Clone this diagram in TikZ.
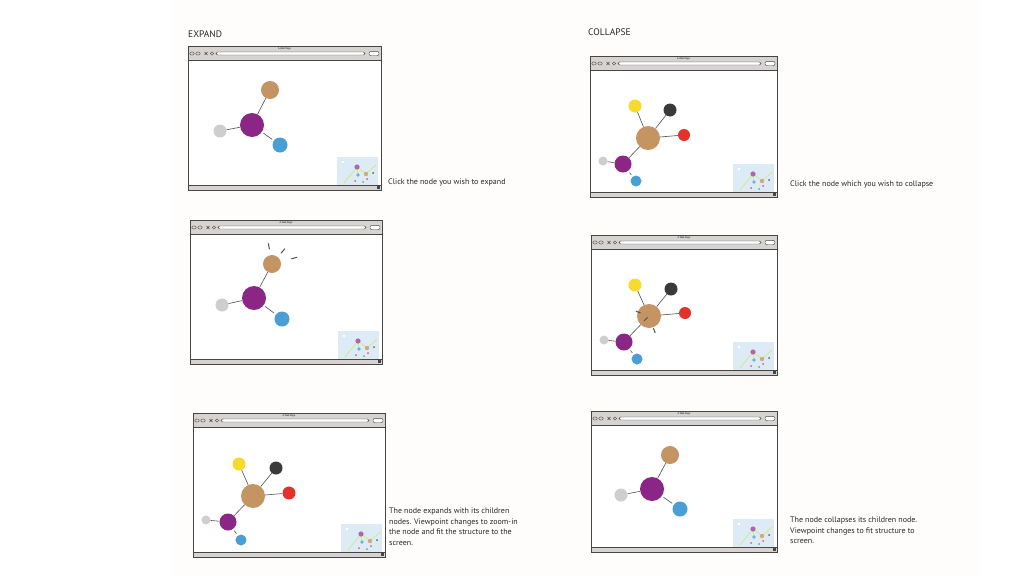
\documentclass[tikz,border=0pt]{standalone}
\usepackage{fontspec}
\setmainfont{PT Sans}
\usetikzlibrary{calc,backgrounds}

\definecolor{pagec}{RGB}{254,253,251}
\definecolor{barc}{RGB}{214,211,208}
\definecolor{framec}{RGB}{70,70,70}
\definecolor{linkc}{RGB}{80,80,80}
\definecolor{mapc}{RGB}{220,235,245}
\definecolor{purplec}{RGB}{140,38,134}
\definecolor{tanc}{RGB}{196,148,98}
\definecolor{greyc}{RGB}{206,206,206}
\definecolor{bluec}{RGB}{74,158,214}
\definecolor{yellowc}{RGB}{246,218,46}
\definecolor{blackc}{RGB}{58,58,58}
\definecolor{redc}{RGB}{226,50,42}
\definecolor{textc}{RGB}{40,40,40}

\tikzset{
  gnode/.style={circle, inner sep=0pt, draw=none},
  link/.style={draw=linkc, line width=0.6pt, shorten >=2pt, shorten <=2pt},
  hint/.style={draw=linkc, line width=1pt},
  note/.style={font=\fontsize{8}{10.5}\selectfont, align=left, inner sep=0pt, text=textc},
  heading/.style={font=\fontsize{9.5}{11}\selectfont, anchor=west, inner sep=0pt, text=textc},
}

% browser window: x, y, width, height
\newcommand{\browserwin}[4]{%
  \begin{scope}[shift={(#1,#2)}]
    \fill[white] (0,0) rectangle (#3,#4);
    \fill[barc] (0,0) rectangle (#3,14);
    \fill[barc] (0,#4-5) rectangle (#3,#4);
    \draw[framec, line width=0.5pt] (0,14) -- (#3,14) (0,#4-5) -- (#3,#4-5);
    \node[font=\fontsize{2.5}{3}\selectfont, inner sep=0pt] at (#3/2,2.6) {A Web Page};
    \draw[framec, line width=0.4pt] (4,7.5) ellipse (2.2 and 1.6) (10,7.5) ellipse (2.2 and 1.6)
      (16.5,6) -- (19.5,9) (16.5,9) -- (19.5,6) (24,7.5) circle (1.6);
    \draw[framec, line width=0.4pt, fill=white, rounded corners=1.5pt] (28,6) rectangle (#3-16,9);
    \draw[framec, line width=0.4pt, fill=white, rounded corners=2pt] (#3-12,5.3) rectangle (#3-2,9.7);
    \fill[framec] (#3-4,#4-4) rectangle (#3-1,#4-1);
    % minimap
    \begin{scope}[shift={(#3-44,#4-33)}]
      \fill[mapc] (0,0) rectangle (41,28);
      \fill[white] (5,4) rectangle (7,6);
      \draw[yellow!70!green!60, line width=0.6pt] (7,26) -- (20,10) -- (29,17) -- (39,8) (20,10) -- (21,18);
      \fill[purplec!70] (20,10) circle (2.6);
      \fill[tanc!80] (29,17) circle (2.2);
      \fill[bluec!80] (21,18) circle (1.8);
      \fill[blackc!80] (36,16) circle (1);
      \fill[redc!80] (18,24) circle (1) (30,22) circle (1);
      \fill[green!50!black!60] (26,25) circle (1);
    \end{scope}
    \draw[framec, line width=1pt] (0,0) rectangle (#3,#4);
  \end{scope}}

\begin{document}
\begin{tikzpicture}[x=1pt, y=-1pt]
  \useasboundingbox (0,0) rectangle (1024,576);
  \fill[pagec] (172,0) rectangle (980,576);

  \node[heading] (expand) at (188,34) {EXPAND};
  \node[heading] (collapse) at (588,32) {COLLAPSE};

  \foreach \x/\y/\w/\h in {188/46/193/144, 190/220/192/144, 193/413/192/144,
                           590/56/187/141, 591/235/186/140, 591/411/186/141}
    \browserwin{\x}{\y}{\w}{\h};

  % expand, step 1
  \node[gnode, fill=purplec, minimum size=24pt] (e1c) at (252,125) {};
  \node[gnode, fill=tanc,    minimum size=18pt] (e1t) at (270,90) {};
  \node[gnode, fill=greyc,   minimum size=13pt] (e1g) at (220,131) {};
  \node[gnode, fill=bluec,   minimum size=15pt] (e1b) at (280,145) {};
  \path[link] (e1c) -- (e1t) (e1c) -- (e1g) (e1c) -- (e1b);

  % expand, step 2
  \node[gnode, fill=purplec, minimum size=24pt] (e2c) at (254,298) {};
  \node[gnode, fill=tanc,    minimum size=18pt] (e2t) at (272,264) {};
  \node[gnode, fill=greyc,   minimum size=13pt] (e2g) at (222,305) {};
  \node[gnode, fill=bluec,   minimum size=15pt] (e2b) at (282,319) {};
  \path[link] (e2c) -- (e2t) (e2c) -- (e2g) (e2c) -- (e2b);
  \draw[hint] ($(e2t)+(100:15pt)$) -- ($(e2t)+(100:21pt)$)
              ($(e2t)+(50:14pt)$)  -- ($(e2t)+(50:20pt)$)
              ($(e2t)+(15:20pt)$)  -- ($(e2t)+(15:26pt)$);

  % expand, step 3
  \node[gnode, fill=tanc,    minimum size=24pt] (e3c) at (253,496) {};
  \node[gnode, fill=yellowc, minimum size=13pt] (e3y) at (239,464) {};
  \node[gnode, fill=blackc,  minimum size=13pt] (e3k) at (276,468) {};
  \node[gnode, fill=redc,    minimum size=13pt] (e3r) at (289,493) {};
  \node[gnode, fill=purplec, minimum size=17pt] (e3p) at (228,522) {};
  \node[gnode, fill=greyc,   minimum size=9pt]  (e3g) at (206,520) {};
  \node[gnode, fill=bluec,   minimum size=11pt] (e3b) at (241,540) {};
  \path[link] (e3c) -- (e3y) (e3c) -- (e3k) (e3c) -- (e3r) (e3c) -- (e3p)
              (e3p) -- (e3g) (e3p) -- (e3b);

  % collapse, step 1
  \node[gnode, fill=tanc,    minimum size=24pt] (c1c) at (648,138) {};
  \node[gnode, fill=yellowc, minimum size=13pt] (c1y) at (635,106) {};
  \node[gnode, fill=blackc,  minimum size=13pt] (c1k) at (670,110) {};
  \node[gnode, fill=redc,    minimum size=12pt] (c1r) at (684,135) {};
  \node[gnode, fill=purplec, minimum size=17pt] (c1p) at (623,164) {};
  \node[gnode, fill=greyc,   minimum size=9pt]  (c1g) at (603,161) {};
  \node[gnode, fill=bluec,   minimum size=11pt] (c1b) at (636,181) {};
  \path[link] (c1c) -- (c1y) (c1c) -- (c1k) (c1c) -- (c1r) (c1c) -- (c1p)
              (c1p) -- (c1g) (c1p) -- (c1b);

  % collapse, step 2
  \node[gnode, fill=tanc,    minimum size=24pt] (c2c) at (649,316) {};
  \node[gnode, fill=yellowc, minimum size=13pt] (c2y) at (635,285) {};
  \node[gnode, fill=blackc,  minimum size=13pt] (c2k) at (671,289) {};
  \node[gnode, fill=redc,    minimum size=12pt] (c2r) at (685,313) {};
  \node[gnode, fill=purplec, minimum size=17pt] (c2p) at (624,342) {};
  \node[gnode, fill=greyc,   minimum size=9pt]  (c2g) at (604,340) {};
  \node[gnode, fill=bluec,   minimum size=11pt] (c2b) at (637,359) {};
  \path[link] (c2c) -- (c2y) (c2c) -- (c2k) (c2c) -- (c2r) (c2c) -- (c2p)
              (c2p) -- (c2g) (c2p) -- (c2b);
  \draw[hint] ($(c2c)+(160:9pt)$)  -- ($(c2c)+(160:14pt)$)
              ($(c2c)+(225:2pt)$)  -- ($(c2c)+(225:7pt)$)
              ($(c2c)+(290:13pt)$) -- ($(c2c)+(290:18pt)$);

  % collapse, step 3
  \node[gnode, fill=purplec, minimum size=24pt] (c3c) at (652,489) {};
  \node[gnode, fill=tanc,    minimum size=18pt] (c3t) at (670,455) {};
  \node[gnode, fill=greyc,   minimum size=13pt] (c3g) at (621,495) {};
  \node[gnode, fill=bluec,   minimum size=15pt] (c3b) at (680,509) {};
  \path[link] (c3c) -- (c3t) (c3c) -- (c3g) (c3c) -- (c3b);

  % notes
  \node[note, anchor=west] (n1) at (388,182) {Click the node you wish to expand};
  \node[note, anchor=west] (n4) at (790,184) {Click the node which you wish to collapse};
  \node[note, anchor=north west] (n3) at (389,508)
    {The node expands with its children\\nodes. Viewpoint changes to zoom-in\\the node and fit the structure to the\\screen.};
  \node[note, anchor=north west] (n6) at (790,517)
    {The node collapses its children node.\\Viewpoint changes to fit structure to\\screen.};
\end{tikzpicture}
\end{document}
